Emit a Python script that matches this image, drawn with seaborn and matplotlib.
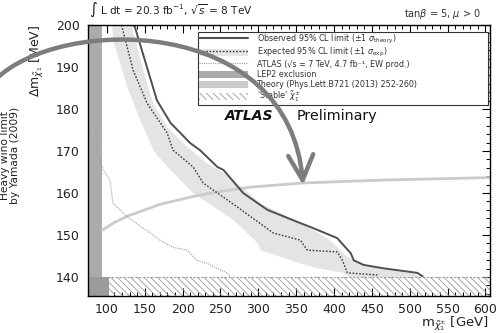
import numpy as np
import matplotlib
matplotlib.use("Agg")
import matplotlib.pyplot as plt
import seaborn as sns
from matplotlib.patches import Patch, FancyArrowPatch, Rectangle
from matplotlib.lines import Line2D
from matplotlib.path import Path
from matplotlib.ticker import MultipleLocator
from matplotlib.legend_handler import HandlerPatch

# ---------------- data ----------------
obs_m = [134, 137, 154, 166, 184, 210, 223, 246, 254, 280, 312, 352, 369, 404, 422, 426, 439, 465, 510, 517]
obs_dm = [200, 199.5, 189.3, 182.1, 176.7, 171.9, 170.2, 166.2, 165.5, 160.0, 156.0, 153.1,
          151.9, 149.3, 145.7, 144.0, 142.9, 142.1, 141.0, 140.2]

exp_m = [119, 120, 134.5, 153, 179.5, 187.4, 213.9, 227.1, 272.1, 319.7, 355.4, 364.7, 404.4, 411, 417.6, 457.3, 458]
exp_dm = [200, 199.5, 189.3, 181.4, 174.3, 170.2, 166.2, 162.4, 156.7, 150.5, 148.8, 146.4,
          146.0, 144.0, 141.0, 140.5, 140.2]

band_up_m = [132, 133.2, 147.8, 161, 179.5, 206, 232.4, 262.8, 302.5, 355.4, 395, 415, 440, 470, 505, 515]
band_up_dm = [200, 199.5, 189.3, 181.4, 175.7, 171.0, 167.1, 163.8, 157.6, 152.9, 148.8, 145.2,
              142.6, 141.8, 140.8, 140.0]
band_lo_m = [107, 108, 127, 144, 162, 180, 214, 267, 299, 303, 355, 378, 412, 422]
band_lo_dm = [200, 196.4, 185.2, 177.4, 170.0, 166.2, 160.0, 153.6, 148.1, 146.4, 143.3, 142.1, 141.0, 140.0]

atlas7_m = [85, 87, 95, 104, 108, 127, 157, 170, 187, 206, 219, 232, 250, 259, 263]
atlas7_dm = [176, 169.5, 165.5, 163.1, 157.6, 154.3, 150.5, 148.8, 147.1, 146.4, 144.0, 143.3, 141.7, 141.0, 140.0]

theory_m = [94, 110, 127, 150, 170, 214, 250, 289, 359, 465, 610]
theory_dm = [151.2, 153.0, 154.5, 156.0, 157.3, 159.2, 160.4, 161.4, 162.4, 163.1, 163.7]

lep_m = 93.5          # LEP2 exclusion (full height)
lep_low_m = 103       # LEP2 exclusion below stable limit
stable_dm = 140       # 'Stable' chargino below this

x_ticks = [100, 150, 200, 250, 300, 350, 400, 450, 500, 550, 600]
y_ticks = [140, 150, 160, 170, 180, 190, 200]
x_lim = (75, 606)
y_lim = (135.5, 200)

legend_labels = [
    r"Observed 95% CL limit (±1 $\sigma_{\mathrm{theory}}$)",
    r"Expected 95% CL limit (±1 $\sigma_{\mathrm{exp}}$)",
    "ATLAS (√s = 7 TeV, 4.7 fb⁻¹, EW prod.)",
    "LEP2 exclusion",
    "Theory (Phys.Lett.B721 (2013) 252-260)",
    r"'Stable' $\tilde{\chi}_1^{\pm}$",
]

# ---------------- style ----------------
sns.set_theme(style="ticks")
plt.rcParams['font.family'] = ['DejaVu Sans']
plt.rcParams['mathtext.fontset'] = 'dejavusans'
plt.rcParams['hatch.color'] = '#9a9a9a'
plt.rcParams['hatch.linewidth'] = 0.6

W, H = 500, 333
fig = plt.figure(figsize=(W / 100, H / 100), dpi=100)
ax = fig.add_axes([88 / W, 1 - 296 / H, (490 - 88) / W, (296 - 25) / H])

C_OBS = '#4f4f4f'
C_EXP = '#3c3c3c'
C_BAND = '#e4e4e4'
C_ATL = '#a0a0a0'
C_LEP = '#ababab'
C_TH = '#cbcbcb'

# expected band
ax.fill(np.concatenate([band_up_m, band_lo_m[::-1]]),
        np.concatenate([band_up_dm, band_lo_dm[::-1]]),
        color=C_BAND, lw=0, zorder=1)

# LEP2
ax.axvspan(x_lim[0], lep_m, color=C_LEP, lw=0, zorder=2)
ax.fill_between([x_lim[0], lep_low_m], y_lim[0], stable_dm, color='#9c9c9c', lw=0, zorder=2)

# lines
sns.lineplot(x=theory_m, y=theory_dm, ax=ax, color=C_TH, lw=2.0, sort=False, estimator=None, zorder=3)
sns.lineplot(x=atlas7_m, y=atlas7_dm, ax=ax, color=C_ATL, lw=0.8, linestyle=(0, (1, 1)),
             sort=False, estimator=None, zorder=4)
sns.lineplot(x=exp_m, y=exp_dm, ax=ax, color=C_EXP, lw=1.0, linestyle=(0, (1.2, 1.2)),
             sort=False, estimator=None, zorder=5)
sns.lineplot(x=obs_m, y=obs_dm, ax=ax, color=C_OBS, lw=1.4, sort=False, estimator=None, zorder=5)

# stable region (hatched)
ax.fill_between(x_lim, y_lim[0], stable_dm, facecolor='none', edgecolor='#9a9a9a',
                hatch='\\\\\\\\\\', lw=0, zorder=6)
ax.axhline(stable_dm, color='#9a9a9a', lw=0.8, ls=(0, (2, 1.5)), zorder=6)

ax.set_xlim(*x_lim)
ax.set_ylim(*y_lim)
ax.set_xticks(x_ticks)
ax.set_yticks(y_ticks)
ax.xaxis.set_minor_locator(MultipleLocator(10))
ax.yaxis.set_minor_locator(MultipleLocator(2))
ax.tick_params(which='both', direction='in', top=True, right=True, color='black',
               labelsize=9, labelcolor='#222222')
ax.tick_params(which='major', length=6, width=0.8)
ax.tick_params(which='minor', length=3, width=0.7)
ax.tick_params(axis='x', pad=5)
ax.tick_params(axis='y', pad=6)
for s in ax.spines.values():
    s.set_color('black')
    s.set_linewidth(1.0)
    s.set_zorder(10)
ax.set_xlabel('')
ax.set_ylabel('')


# legend
def slim_patch(legend, orig_handle, xdescent, ydescent, width, height, fontsize):
    return Rectangle((-xdescent, -ydescent + height * 0.17), width, height * 0.66)


handles = [
    Line2D([], [], color=C_OBS, lw=1.5),
    (Patch(facecolor=C_BAND, edgecolor='none'), Line2D([], [], color=C_EXP, lw=1.0, ls=(0, (1.2, 1.2)))),
    Line2D([], [], color=C_ATL, lw=0.8, ls=(0, (1, 1))),
    Patch(facecolor=C_LEP, edgecolor='none'),
    Patch(facecolor=C_TH, edgecolor='none'),
    Patch(facecolor='white', edgecolor='#9a9a9a', hatch='\\\\\\\\\\', lw=0),
]
leg = ax.legend(handles, legend_labels, loc='upper left',
                bbox_to_anchor=(0.274, 0.974, 0.721, 0.0), mode='expand',
                fontsize=5.8, frameon=True, fancybox=False, framealpha=1,
                edgecolor='#333333', handlelength=6.0, handleheight=1.55,
                handletextpad=1.1, labelspacing=0.0, borderpad=0.15, borderaxespad=0,
                handler_map={Patch: HandlerPatch(patch_func=slim_patch)})
leg.get_frame().set_linewidth(0.8)
leg.set_zorder(8)
for t in leg.get_texts():
    t.set_color('#333333')

# texts
def fx(px):
    return px / W

def fy(py):
    return 1 - py / H

fig.text(fx(89), fy(10), r"$\int$ L dt = 20.3 fb$^{-1}$, $\sqrt{s}$ = 8 TeV",
         fontsize=7.6, ha='left', va='center', color='#222222')
fig.text(fx(481), fy(14), r"tan$\beta$ = 5, $\mu$ > 0", fontsize=7.0,
         ha='right', va='center', color='#333333')
fig.text(fx(225), fy(116), "ATLAS", fontsize=10, fontweight='bold', fontstyle='italic',
         ha='left', va='center', color='#111111', zorder=9)
fig.text(fx(297), fy(116), "Preliminary", fontsize=10.3, ha='left', va='center',
         color='#111111', zorder=9)
fig.text(fx(37), fy(25), r"$\Delta\mathrm{m}_{\tilde{\chi}_1}$ [MeV]", fontsize=9,
         rotation=90, ha='center', va='top', color='#222222')
fig.text(fx(489), fy(324), r"$\mathrm{m}_{\tilde{\chi}_1^{\pm}}$ [GeV]", fontsize=9.5,
         ha='right', va='center', color='#222222')
fig.text(fx(10), fy(155), "Heavy wino limit\nby Yamada (2009)", fontsize=7.7,
         rotation=90, ha='center', va='center', color='#222222', linespacing=1.0)

# big curved arrow
pts = [(-5, 80), (60, 15), (290, 15), (303, 185)]
verts = [(fx(x), fy(y)) for x, y in pts]
path = Path(verts, [Path.MOVETO, Path.CURVE4, Path.CURVE4, Path.CURVE4])
arrow = FancyArrowPatch(path=path, arrowstyle='->,head_length=0.9,head_width=0.45',
                        mutation_scale=20, lw=3.2, color='#7d7d7d',
                        transform=fig.transFigure, zorder=20)
fig.add_artist(arrow)

fig.savefig('out.png', dpi=100)
